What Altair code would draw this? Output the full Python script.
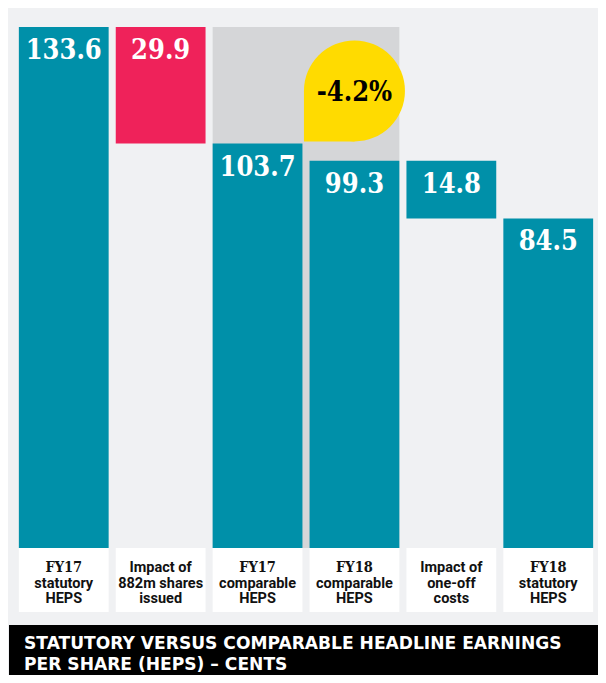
import altair as alt
import pandas as pd

# ---- data ----
categories = [
    "FY17 statutory HEPS",
    "Impact of 882m shares issued",
    "FY17 comparable HEPS",
    "FY18 comparable HEPS",
    "Impact of one-off costs",
    "FY18 statutory HEPS",
]
values = [133.6, 29.9, 103.7, 99.3, 14.8, 84.5]
kinds = ["total", "decrease", "total", "total", "decrease", "total"]
bar_colors = ["teal", "red", "teal", "teal", "teal", "teal"]
line1 = ["FY17", "Impact of", "FY17", "FY18", "Impact of", "FY18"]
line2 = ["statutory", "882m shares", "comparable", "comparable", "one-off", "statutory"]
line3 = ["HEPS", "issued", "HEPS", "HEPS", "costs", "HEPS"]
line1_slab = [True, False, True, True, False, True]
highlight = ["FY17 comparable HEPS", "FY18 comparable HEPS"]
change_label = "-4.2%"
change_at = "FY18 comparable HEPS"
change_y = 117.2
title_lines = ["STATUTORY VERSUS COMPARABLE HEADLINE EARNINGS", "PER SHARE (HEPS) \u2013 CENTS"]

# waterfall extents
tops, bottoms = [], []
running = 0.0
for v, k in zip(values, kinds):
    if k == "total":
        tops.append(v)
        bottoms.append(0.0)
        running = v
    else:
        tops.append(running)
        bottoms.append(running - v)
        running -= v

bars = pd.DataFrame({
    "cat": categories, "value": values, "kind": kinds, "col": bar_colors,
    "top": tops, "bottom": bottoms,
    "label": [f"{v:.1f}" for v in values],
    "l1": line1, "l2": line2, "l3": line3, "slab": line1_slab,
})
hl_df = pd.DataFrame({"a": [highlight[0]], "b": [highlight[1]], "top": [max(tops)], "bottom": [0.0]})
badge_df = pd.DataFrame({"cat": [change_at], "y": [change_y], "label": [change_label]})

# ---- style ----
TEAL = "#0090a9"
RED = "#ef225a"
YELLOW = "#ffdb00"
HL = "#d5d6d8"
BG = "#f0f1f3"
SLAB = "DejaVu Serif Condensed, DejaVu Serif"
SANS = "Roboto"
TITLE_FONT = "DejaVu Sans"

W, H = 590, 667
x_scale = alt.Scale(domain=categories, range=[0, 596], paddingInner=0.0733, paddingOuter=0.112)
# 3.9 px per cent, zero at y=540
y_scale = alt.Scale(domain=[(540 - H) / 3.9, 540 / 3.9], nice=False, zero=False)

def X(field="cat", **kw):
    return alt.X(f"{field}:N", scale=x_scale, axis=None, sort=categories, **kw)

def Y(field):
    return alt.Y(f"{field}:Q", scale=y_scale, axis=None)

hl = alt.Chart(hl_df).mark_rect(color=HL).encode(
    x=X("a", bandPosition=0), x2=alt.X2("b:N", bandPosition=1),
    y=Y("top"), y2=alt.Y2("bottom:Q"),
)

bar_layer = alt.Chart(bars).mark_rect().encode(
    x=X(), y=Y("top"), y2=alt.Y2("bottom:Q"),
    color=alt.Color("col:N", scale=alt.Scale(domain=["teal", "red"], range=[TEAL, RED]), legend=None),
)

val_text = alt.Chart(bars).mark_text(
    dy=32, baseline="alphabetic", font=SLAB, fontWeight="bold", fontSize=27, color="white"
).encode(x=X(), y=Y("top"), text="label:N")

box = alt.Chart(bars).mark_rect(color="white").encode(
    x=X(), y=alt.value(540), y2=alt.value(604)
)

zero_df = bars.assign(zero=0.0)
FS = 14.5
l1_slab = alt.Chart(zero_df).transform_filter("datum.slab").mark_text(
    dy=24, baseline="alphabetic", font=SLAB, fontWeight="bold", fontSize=FS, color="#111111"
).encode(x=X(), y=Y("zero"), text="l1:N")
l1_sans = alt.Chart(zero_df).transform_filter("!datum.slab").mark_text(
    dy=24, baseline="alphabetic", font=SANS, fontWeight="bold", fontSize=FS, color="#111111"
).encode(x=X(), y=Y("zero"), text="l1:N")
l2 = alt.Chart(zero_df).mark_text(
    dy=40, baseline="alphabetic", font=SANS, fontWeight="bold", fontSize=FS, color="#111111"
).encode(x=X(), y=Y("zero"), text="l2:N")
l3 = alt.Chart(zero_df).mark_text(
    dy=55, baseline="alphabetic", font=SANS, fontWeight="bold", fontSize=FS, color="#111111"
).encode(x=X(), y=Y("zero"), text="l3:N")

circle = alt.Chart(badge_df).mark_point(
    shape="circle", filled=True, size=10201, color=YELLOW, opacity=1, strokeWidth=0
).encode(x=X(), y=Y("y"))
corner = alt.Chart(badge_df).mark_point(
    shape="square", filled=True, size=2550, color=YELLOW, opacity=1, strokeWidth=0,
    xOffset=-25.25, yOffset=25.25,
).encode(x=X(), y=Y("y"))
badge_text = alt.Chart(badge_df).mark_text(
    dy=10, baseline="alphabetic", font=SLAB, fontWeight="bold", fontSize=27, color="black"
).encode(x=X(), y=Y("y"), text="label:N")

band = alt.Chart(badge_df).mark_rect(color="black").encode(
    x=alt.value(1), x2=alt.value(W), y=alt.value(617), y2=alt.value(H)
)
t1 = alt.Chart(badge_df).mark_text(
    align="left", baseline="alphabetic", font=TITLE_FONT, fontWeight="bold", fontSize=17.1, color="white"
).encode(x=alt.value(16), y=alt.value(641), text=alt.value(title_lines[0]))
t2 = alt.Chart(badge_df).mark_text(
    align="left", baseline="alphabetic", font=TITLE_FONT, fontWeight="bold", fontSize=17.1, color="white"
).encode(x=alt.value(16), y=alt.value(662), text=alt.value(title_lines[1]))

chart = alt.layer(
    hl, bar_layer, val_text, box, l1_slab, l1_sans, l2, l3, circle, corner, badge_text, band, t1, t2
).properties(
    width=W, height=H, autosize=alt.AutoSizeParams(type="none"), padding=0, background=BG
).configure_view(stroke=None)

chart.save("out.html", embed_options={"renderer": "svg", "actions": False})
